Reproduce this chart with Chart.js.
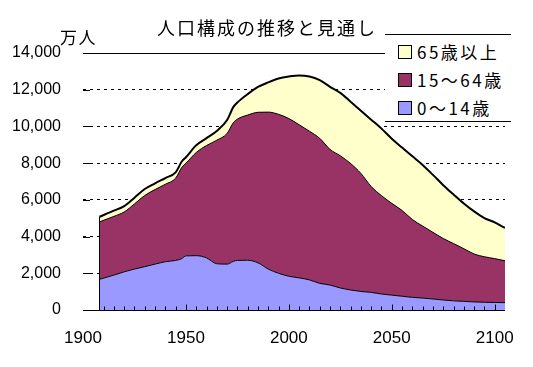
<!DOCTYPE html>
<html lang="ja">
<head>
<meta charset="utf-8">
<title>人口構成の推移と見通し</title>
<script src="https://cdn.jsdelivr.net/npm/chart.js@4.4.1/dist/chart.umd.min.js"></script>
<style>
  html, body { margin: 0; padding: 0; background: #fff; }
  #wrap { position: relative; width: 533px; height: 367px; }
  #title { position: absolute; left: 157px; top: 18px; font: 18px/18px "Noto Sans CJK JP"; letter-spacing: 2px; white-space: nowrap; color: #000; }
  #unit { position: absolute; left: 60px; top: 28px; font: 17px/17px "Noto Sans CJK JP"; letter-spacing: 1.5px; white-space: nowrap; color: #000; }
  #legend { position: absolute; left: 385px; top: 34px; width: 126px; height: 86px; background: #fff; border-top: 1px solid #000; border-bottom: 1px solid #000; }
  .item { position: absolute; left: 13px; height: 20px; display: flex; align-items: center; font: 17px/20px "Noto Sans CJK JP"; letter-spacing: 2.5px; white-space: nowrap; color: #000; }
  .item i { display: inline-block; width: 12px; height: 12px; border: 1px solid #000; margin-right: 5px; }
</style>
</head>
<body>
<div id="wrap">
  <canvas id="popChart" width="533" height="367"></canvas>
  <div id="title">人口構成の推移と見通し</div>
  <div id="unit">万人</div>
  <div id="legend"></div>
</div>
<script>
// 万人
const years = [1908, 1915, 1920, 1925, 1930, 1935, 1940, 1945, 1948, 1950, 1955, 1960, 1965, 1970, 1973, 1975,
  1980, 1985, 1990, 1995, 2000, 2005, 2010, 2015, 2020, 2025, 2030, 2035, 2040, 2045, 2050, 2055,
  2060, 2065, 2070, 2075, 2080, 2085, 2090, 2095, 2100, 2105];
const age0to14 = [1670, 1900, 2080, 2230, 2360, 2500, 2630, 2700, 2800, 2950, 2960, 2840, 2520, 2500, 2650, 2700,
  2710, 2570, 2230, 2000, 1840, 1750, 1640, 1450, 1360, 1200, 1090, 1010, 960, 870, 810, 750,
  690, 650, 600, 545, 500, 470, 440, 420, 410, 400];
const age15to64 = [3130, 3200, 3260, 3550, 3880, 4060, 4220, 4480, 4970, 5040, 5620, 6120, 6730, 7120, 7550, 7700,
  7910, 8200, 8550, 8660, 8590, 8340, 8100, 7900, 7390, 7200, 6890, 6430, 5770, 5360, 5000, 4670,
  4240, 3920, 3630, 3350, 3120, 2870, 2610, 2480, 2390, 2280];
const age65plus = [280, 310, 320, 340, 350, 340, 340, 320, 320, 330, 390, 400, 500, 730, 850, 900,
  1140, 1380, 1620, 1950, 2290, 2690, 2980, 3170, 3410, 3430, 3370, 3420, 3640, 3650, 3520, 3430,
  3440, 3330, 3130, 2905, 2670, 2460, 2320, 2110, 1970, 1790];

const seriesNames = ['0～14歳', '15～64歳', '65歳以上'];
const seriesColors = ['#9999FF', '#993366', '#FFFFCC'];
const yearTicks = [1900, 1950, 2000, 2050, 2100];
const valueTicks = [0, 2000, 4000, 6000, 8000, 10000, 12000, 14000];

const toPoints = vals => vals.map((v, i) => ({ x: years[i], y: v }));

// legend, top row = top layer
const legend = document.getElementById('legend');
[2, 1, 0].forEach((k, row) => {
  const el = document.createElement('div');
  el.className = 'item';
  el.style.top = (7 + row * 28) + 'px';
  el.innerHTML = '<i style="background:' + seriesColors[k] + '"></i>' + seriesNames[k];
  legend.appendChild(el);
});

// axis line, inside tick marks, left edge of the stack
const axisMarks = {
  id: 'axisMarks',
  beforeDatasetsDraw(chart) {
    const { ctx, chartArea, scales: { y } } = chart;
    ctx.save();
    ctx.strokeStyle = '#000';
    ctx.lineWidth = 1;
    ctx.beginPath();
    valueTicks.slice(1, -1).forEach(v => {
      const py = Math.round(y.getPixelForValue(v)) + 0.5;
      ctx.moveTo(chartArea.left, py);
      ctx.lineTo(chartArea.left + 7, py);
    });
    ctx.stroke();
    ctx.restore();
  },
  afterDatasetsDraw(chart) {
    const { ctx, chartArea, scales: { x, y } } = chart;
    const base = Math.round(y.getPixelForValue(0)) + 0.5;
    ctx.save();
    ctx.strokeStyle = '#000';
    ctx.lineWidth = 1;
    ctx.beginPath();
    ctx.moveTo(chartArea.left, base);
    ctx.lineTo(chartArea.right, base);
    for (let yr = 1910; yr <= 2100; yr += 5) {
      const px = Math.round(x.getPixelForValue(yr)) + 0.5;
      ctx.moveTo(px, base);
      ctx.lineTo(px, base - (yr % 50 === 0 ? 6 : 4));
    }
    const first = chart.getDatasetMeta(2).data[0];
    const ex = Math.round(first.x) + 0.5;
    ctx.moveTo(ex, base);
    ctx.lineTo(ex, first.y);
    ctx.stroke();
    ctx.restore();
  }
};

new Chart(document.getElementById('popChart'), {
  type: 'line',
  data: {
    datasets: [
      {
        label: seriesNames[0],
        data: toPoints(age0to14),
        backgroundColor: seriesColors[0],
        borderColor: '#000',
        borderWidth: 1,
        fill: 'origin'
      },
      {
        label: seriesNames[1],
        data: toPoints(age15to64),
        backgroundColor: seriesColors[1],
        borderColor: '#000',
        borderWidth: 1,
        fill: '-1'
      },
      {
        label: seriesNames[2],
        data: toPoints(age65plus),
        backgroundColor: seriesColors[2],
        borderColor: '#000',
        borderWidth: 2,
        fill: '-1'
      }
    ]
  },
  options: {
    responsive: false,
    animation: false,
    devicePixelRatio: 1,
    layout: { padding: { top: 53, right: 28, left: 0, bottom: 0 } },
    elements: {
      point: { radius: 0 },
      line: { cubicInterpolationMode: 'monotone' }
    },
    plugins: {
      legend: { display: false },
      title: { display: false },
      tooltip: { enabled: false }
    },
    scales: {
      x: {
        type: 'linear',
        min: 1900,
        max: 2105,
        afterBuildTicks: s => { s.ticks = yearTicks.map(v => ({ value: v })); },
        afterFit: s => { s.height = 57; },
        grid: { display: false, drawTicks: false },
        border: { display: false },
        ticks: {
          callback: v => String(v),
          color: '#000',
          font: { family: 'Liberation Sans', size: 17 },
          padding: 18,
          maxRotation: 0,
          autoSkip: false
        }
      },
      y: {
        stacked: true,
        min: 0,
        max: 14000,
        afterBuildTicks: s => { s.ticks = valueTicks.map(v => ({ value: v })); },
        afterFit: s => { s.width = 83; },
        grid: { color: '#000', lineWidth: 1, drawTicks: false },
        border: {
          display: false,
          dash: ctx => (ctx.tick && ctx.tick.value !== 14000 && ctx.tick.value !== 0) ? [3, 4] : []
        },
        ticks: {
          callback: v => v.toLocaleString('en-US'),
          color: '#000',
          font: { family: 'Liberation Sans', size: 16 },
          padding: 22
        }
      }
    }
  },
  plugins: [axisMarks]
});
</script>
</body>
</html>
